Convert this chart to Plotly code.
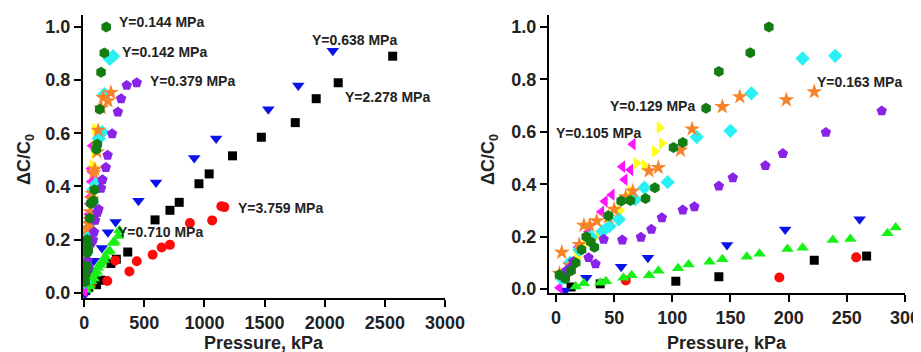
import plotly.graph_objects as go

# ---------------- data (Pressure kPa, ΔC/C0) ----------------
black_x = [13, 38, 103, 140, 222, 267, 362, 589, 713, 790, 954, 1039, 1233, 1473, 1755, 1929, 2112, 2565]
black_y = [0.008, 0.02, 0.03, 0.047, 0.11, 0.126, 0.153, 0.274, 0.31, 0.34, 0.41, 0.447, 0.515, 0.585, 0.64, 0.73, 0.79, 0.89]

red_x = [60, 192, 258, 376, 437, 569, 644, 713, 879, 1064, 1140, 1165]
red_y = [0.033, 0.044, 0.121, 0.08, 0.118, 0.143, 0.17, 0.18, 0.262, 0.272, 0.325, 0.322]

blue_x = [8, 26, 56, 79, 147, 197, 261, 451, 597, 915, 1097, 1531, 1780, 2067]
blue_y = [-0.005, 0.043, 0.085, 0.12, 0.168, 0.227, 0.266, 0.346, 0.415, 0.507, 0.58, 0.69, 0.78, 0.91]

lime_x = [17, 24, 38, 43, 58, 65, 80, 88, 105, 114, 132, 143, 164, 175, 199, 212, 238, 253, 285, 292]
lime_y = [0.01, 0.022, 0.024, 0.03, 0.043, 0.053, 0.053, 0.07, 0.079, 0.094, 0.104, 0.114, 0.123, 0.135,
          0.153, 0.158, 0.187, 0.191, 0.213, 0.235]

magenta_x = [3, 10, 19, 28, 39, 42, 48, 59, 64, 57, 66]
magenta_y = [0.005, 0.07, 0.16, 0.22, 0.295, 0.335, 0.36, 0.418, 0.455, 0.467, 0.553]

yellow_x = [8, 18, 25, 36, 45, 55, 64, 69, 76, 85, 91, 89]
yellow_y = [0.04, 0.12, 0.175, 0.206, 0.244, 0.3, 0.374, 0.48, 0.473, 0.526, 0.556, 0.616]

cyan_x = [5, 12, 20, 30, 40, 46, 54, 68, 76, 96, 121, 150, 168, 212, 240]
cyan_y = [0.04, 0.1, 0.15, 0.2, 0.22, 0.24, 0.266, 0.342, 0.387, 0.408, 0.58, 0.604, 0.747, 0.88, 0.89]

orange_x = [3, 5, 12, 20, 24, 29, 35, 45, 50, 60, 66, 80, 88, 107, 117, 143, 158, 198, 222]
orange_y = [0.06, 0.14, 0.09, 0.17, 0.243, 0.243, 0.26, 0.275, 0.304, 0.352, 0.374, 0.451, 0.464, 0.53,
            0.611, 0.696, 0.734, 0.722, 0.753]

purple_x = [9, 12, 15, 28, 34, 41, 57, 73, 82, 91, 109, 119, 140, 152, 180, 195, 232, 280, 307, 354, 437]
purple_y = [0.07, 0.08, 0.105, 0.12, 0.096, 0.19, 0.187, 0.198, 0.228, 0.272, 0.302, 0.314, 0.393, 0.425,
            0.471, 0.517, 0.598, 0.68, 0.73, 0.78, 0.79]

dgreen_x = [3, 8, 13, 17, 22, 26, 30, 33, 45, 56, 64, 77, 85, 101, 109, 129, 140, 167, 183]
dgreen_y = [0.055, 0.04, 0.07, 0.1, 0.15, 0.2, 0.18, 0.16, 0.28, 0.336, 0.338, 0.346, 0.387, 0.54, 0.559,
            0.69, 0.83, 0.902, 1.0]

# labels
left_labels_text = ["Y=0.144 MPa", "Y=0.142 MPa", "Y=0.379 MPa", "Y=0.638 MPa", "Y=2.278 MPa",
                    "Y=3.759 MPa", "Y=0.710 MPa"]
left_labels_x = [274, 298, 530, 2247, 2148, 1260, 265]
left_labels_y = [1.02, 0.905, 0.797, 0.951, 0.737, 0.318, 0.227]
left_labels_anchor = ["left", "left", "left", "center", "left", "left", "left"]

right_labels_text = ["Y=0.129 MPa", "Y=0.105 MPa", "Y=0.163 MPa"]
right_labels_x = [121, 75, 223]
right_labels_y = [0.698, 0.595, 0.79]
right_labels_anchor = ["right", "right", "left"]

series = [
    (black_x, black_y, "square", "#000000", 9),
    (red_x, red_y, "circle", "#ff0a0a", 10),
    (blue_x, blue_y, "triangle-down", "#0a14e6", 11),
    (lime_x, lime_y, "triangle-up", "#19f019", 11),
    (magenta_x, magenta_y, "triangle-left", "#ff14ff", 11),
    (yellow_x, yellow_y, "triangle-right", "#ffff14", 11),
    (cyan_x, cyan_y, "diamond", "#28f0f5", 11),
    (orange_x, orange_y, "star", "#f7842a", 12),
    (purple_x, purple_y, "pentagon", "#8a23e8", 11),
    (dgreen_x, dgreen_y, "hexagon", "#137d13", 11),
]

FONT = "Arial, 'Liberation Sans', sans-serif"

# page body has an 8px margin; figure is sized to fit the 921x352 window
OFF = 8
W, H = 921 - OFF, 352 - OFF


def px(xp):
    return (xp - OFF) / W


def py(yp):
    return (H - (yp - OFF)) / H


fig = go.Figure()
for xa, ya in (("x", "y"), ("x2", "y2")):
    for xs, ys, sym, col, sz in series:
        fig.add_trace(go.Scatter(
            x=xs, y=ys, mode="markers", xaxis=xa, yaxis=ya, showlegend=False,
            cliponaxis=True,
            marker=dict(symbol=sym, color=col, size=sz, line=dict(width=0)),
        ))

axis_common = dict(showline=True, linecolor="black", linewidth=2, ticks="outside", ticklen=7,
                   tickwidth=2, tickcolor="black", showgrid=False, zeroline=False, automargin=False,
                   tickfont=dict(family=FONT, size=18, color="#222", weight="bold"))

fig.update_layout(
    width=W, height=H, autosize=False,
    margin=dict(l=0, r=0, t=0, b=0),
    paper_bgcolor="white", plot_bgcolor="white",
    font=dict(family=FONT, color="#222"),
    xaxis=dict(domain=[px(83), px(445)], range=[-10, 3000], tickvals=[0, 500, 1000, 1500, 2000, 2500, 3000],
               anchor="y", **axis_common),
    yaxis=dict(domain=[py(298), py(15)], range=[-0.02, 1.045],
               tickvals=[0, 0.2, 0.4, 0.6, 0.8, 1.0], tickformat=".1f", anchor="x", **axis_common),
    xaxis2=dict(domain=[px(549), px(905)], range=[-6, 300], tickvals=[0, 50, 100, 150, 200, 250, 300],
                anchor="y2", **axis_common),
    yaxis2=dict(domain=[py(293), py(15)], range=[-0.015, 1.046],
                tickvals=[0, 0.2, 0.4, 0.6, 0.8, 1.0], tickformat=".1f", anchor="x2", **axis_common),
)

annots = []
for t, x, y, a in zip(left_labels_text, left_labels_x, left_labels_y, left_labels_anchor):
    annots.append(dict(text=f"<b>{t}</b>", x=x, y=y, xref="x", yref="y", xanchor=a, yanchor="middle",
                       showarrow=False, font=dict(family=FONT, size=14, color="#222")))
for t, x, y, a in zip(right_labels_text, right_labels_x, right_labels_y, right_labels_anchor):
    annots.append(dict(text=f"<b>{t}</b>", x=x, y=y, xref="x2", yref="y2", xanchor=a, yanchor="middle",
                       showarrow=False, font=dict(family=FONT, size=14, color="#222")))

# axis titles
title_font = dict(family=FONT, size=18, color="#222")
for cx in (px((83 + 445) / 2), px((549 + 905) / 2)):
    annots.append(dict(text="<b>Pressure, kPa</b>", x=cx, y=py(343), xref="paper", yref="paper",
                       xanchor="center", yanchor="middle", showarrow=False, font=title_font))
for cx in (px(25), px(489)):
    annots.append(dict(text="<b>ΔC/C<sub>0</sub></b>", x=cx, y=py(160), xref="paper", yref="paper",
                       xanchor="center", yanchor="middle", textangle=-90, showarrow=False, font=title_font))

fig.update_layout(annotations=annots)

fig.write_html("out.html")
